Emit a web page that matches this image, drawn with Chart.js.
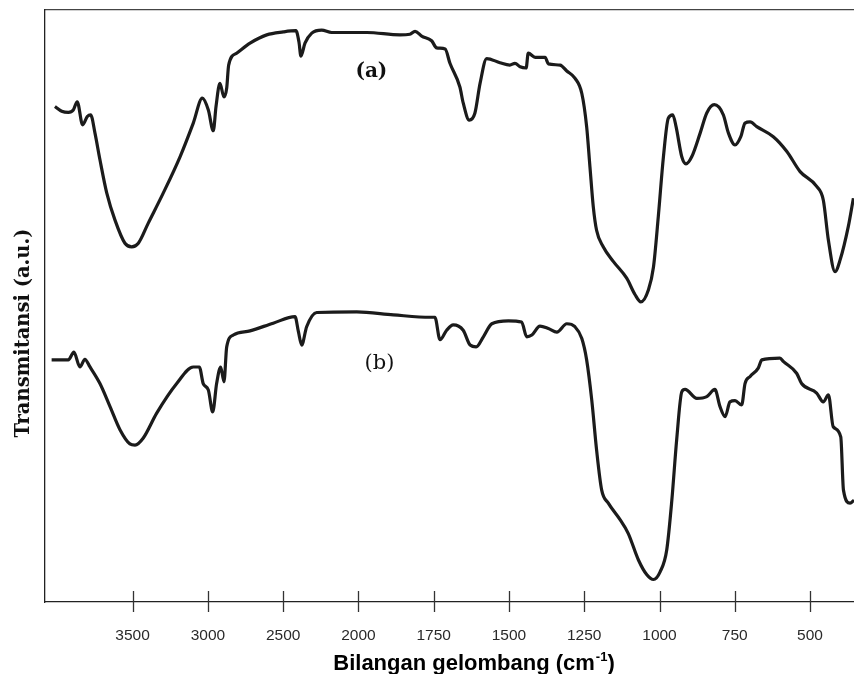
<!DOCTYPE html>
<html>
<head>
<meta charset="utf-8">
<title>FTIR</title>
<script src="https://cdn.jsdelivr.net/npm/chart.js@4.4.1/dist/chart.umd.min.js"></script>
<style>
    html, body { margin: 0; padding: 0; background: #fff; }
    #wrap { width: 854px; height: 674px; }
</style>
</head>
<body>
<div id="wrap"><canvas id="ftirChart" width="854" height="674"></canvas></div>
<script>
// --- DATA ---
// wavenumber in cm-1, transmittance in arbitrary units (0 = bottom, 100 = top)
const waveA = [4016, 3971, 3927, 3894, 3868, 3832, 3801, 3779, 3750, 3717,
    3672, 3617, 3551, 3506, 3462, 3396, 3296, 3185, 3097, 3037,
    2997, 2964, 2946, 2920, 2893, 2875, 2862, 2809, 2720, 2609,
    2499, 2415, 2395, 2382, 2355, 2310, 2244, 2178, 1972, 1862,
    1829, 1812, 1790, 1757, 1740, 1712, 1696, 1663, 1652, 1632,
    1613, 1596, 1574, 1530, 1497, 1480, 1463, 1443, 1436, 1413,
    1380, 1369, 1330, 1308, 1281, 1258, 1242, 1231, 1220, 1209,
    1187, 1153, 1109, 1081, 1062, 1037, 1020, 1004, 987, 971,
    956, 945, 926, 912, 893, 865, 843, 818, 788, 771,
    749, 730, 716, 699, 677, 622, 577, 533, 478, 456,
    439, 417, 400, 373, 356];
const transA = [83.7, 82.9, 82.7, 83.1, 84.5, 80.6, 82.0, 82.3, 79.2, 74.7,
    69.1, 64.5, 60.6, 60.0, 60.6, 64.0, 69.1, 75.2, 80.9, 85.1,
    83.1, 79.6, 83.7, 87.6, 85.3, 86.8, 90.7, 92.7, 94.4, 95.8,
    96.3, 96.5, 94.6, 92.2, 94.4, 96.1, 96.6, 96.2, 96.2, 95.8,
    95.9, 96.4, 95.6, 94.8, 93.6, 93.4, 91.0, 87.0, 84.3, 81.4,
    82.6, 87.6, 91.8, 91.1, 90.7, 91.0, 90.4, 90.2, 92.7, 92.0,
    92.0, 90.9, 90.7, 89.7, 88.5, 85.9, 80.3, 73.5, 66.8, 62.8,
    60.0, 57.5, 54.7, 51.9, 50.7, 52.7, 56.6, 65.1, 75.2, 81.7,
    82.3, 80.3, 75.2, 74.0, 75.2, 79.2, 82.6, 84.0, 82.3, 79.2,
    77.2, 78.6, 80.9, 81.1, 80.3, 78.6, 76.1, 72.7, 70.2, 67.9,
    61.1, 55.8, 57.8, 63.4, 68.2];

const waveB = [4038, 3927, 3890, 3850, 3817, 3783, 3717, 3650, 3584, 3518,
    3484, 3429, 3340, 3207, 3097, 3057, 3031, 2997, 2968, 2942,
    2915, 2893, 2875, 2831, 2720, 2566, 2421, 2399, 2377, 2344,
    2277, 2011, 1884, 1762, 1746, 1729, 1707, 1685, 1652, 1629,
    1609, 1585, 1557, 1502, 1458, 1441, 1424, 1397, 1369, 1341,
    1308, 1281, 1258, 1242, 1225, 1209, 1192, 1170, 1131, 1104,
    1070, 1042, 1020, 998, 976, 959, 943, 926, 915, 876,
    843, 816, 799, 782, 766, 749, 727, 716, 699, 672,
    660, 600, 588, 544, 528, 478, 456, 439, 423, 398,
    389, 367, 354];
const transB = [40.9, 40.9, 42.2, 39.7, 41.0, 39.7, 36.9, 33.0, 29.1, 26.7,
    26.5, 27.7, 31.9, 36.9, 39.7, 39.7, 36.9, 35.8, 32.1, 36.9,
    39.7, 37.2, 43.1, 45.1, 45.8, 47.1, 48.2, 45.7, 43.4, 46.5,
    48.9, 49.0, 48.5, 48.1, 48.1, 44.3, 45.9, 46.8, 45.9, 43.4,
    43.1, 44.8, 47.0, 47.5, 47.3, 44.8, 45.1, 46.6, 46.2, 45.6,
    47.0, 46.5, 44.5, 40.9, 34.1, 25.7, 18.9, 16.7, 13.9, 11.6,
    7.1, 4.6, 3.8, 5.1, 8.8, 17.2, 27.4, 35.5, 35.9, 34.4,
    34.7, 35.9, 33.0, 31.3, 33.8, 34.0, 33.3, 36.9, 38.1, 39.5,
    40.9, 41.2, 40.6, 38.6, 36.9, 35.3, 33.8, 35.0, 29.6, 27.9,
    18.9, 16.7, 17.2];

const tickWaves = [3500, 3000, 2500, 2000, 1750, 1500, 1250, 1000, 750, 500];
const waveRange = [354, 4082];

const curveNames = ['(a)', '(b)'];
const curveNameWaves = [1957, 1930];
const curveNameTrans = [89.5, 40.2];

// --- AXIS BREAK ---
// Above 2000 cm-1 the axis is compressed by half (usual FTIR layout)
function axisPos(wn) {
    return wn > 2000 ? 2000 + (wn - 2000) / 2 : wn;
}
function axisWave(p) {
    return p > 2000 ? Math.round(2000 + (p - 2000) * 2) : Math.round(p);
}

function toPoints(waves, trans) {
    return waves.map((w, i) => ({ x: axisPos(w), y: trans[i] }));
}

// --- EXTRA DRAWING: tick marks crossing the axis, axis titles, curve labels ---
const decorPlugin = {
    id: 'decor',
    afterDraw(chart) {
        const ctx = chart.ctx;
        const area = chart.chartArea;
        const xs = chart.scales.x;
        const ys = chart.scales.y;

        ctx.save();
        // ticks
        ctx.strokeStyle = '#333';
        ctx.lineWidth = 1.3;
        tickWaves.forEach(w => {
            const px = Math.round(xs.getPixelForValue(axisPos(w))) + 0.5;
            ctx.beginPath();
            ctx.moveTo(px, area.bottom - 11);
            ctx.lineTo(px, area.bottom + 10);
            ctx.stroke();
        });

        // y title
        ctx.fillStyle = '#111';
        ctx.translate(24, 333);
        ctx.rotate(-Math.PI / 2);
        ctx.font = 'bold 19.5px "DejaVu Serif"';
        ctx.textAlign = 'center';
        ctx.textBaseline = 'middle';
        ctx.fillText('Transmitansi (a.u.)', 0, 0);
        ctx.restore();

        // x title with superscript
        ctx.save();
        ctx.fillStyle = '#000';
        ctx.textBaseline = 'alphabetic';
        ctx.textAlign = 'left';
        const mainFont = 'bold 22px "Liberation Sans", Arial, sans-serif';
        const supFont = 'bold 13px "Liberation Sans", Arial, sans-serif';
        const part1 = 'Bilangan gelombang (cm';
        const sup = '-1';
        const part2 = ')';
        ctx.font = mainFont;
        const w1 = ctx.measureText(part1).width;
        const w3 = ctx.measureText(part2).width;
        ctx.font = supFont;
        const w2 = ctx.measureText(sup).width;
        const total = w1 + w2 + w3;
        let x0 = (area.left + area.right) / 2 + 24 - total / 2;
        const base = 670;
        ctx.font = mainFont;
        ctx.fillText(part1, x0, base);
        ctx.font = supFont;
        ctx.fillText(sup, x0 + w1 + 1, base - 9);
        ctx.font = mainFont;
        ctx.fillText(part2, x0 + w1 + w2 + 1, base);
        ctx.restore();

        // (a) / (b)
        ctx.save();
        ctx.fillStyle = '#111';
        ctx.textAlign = 'center';
        ctx.textBaseline = 'middle';
        curveNames.forEach((name, i) => {
            ctx.font = i === 0 ? 'bold 20px "DejaVu Serif"' : '21px "DejaVu Serif"';
            ctx.fillText(name,
                xs.getPixelForValue(axisPos(curveNameWaves[i])),
                ys.getPixelForValue(curveNameTrans[i]));
        });
        ctx.restore();
    }
};

// --- CHART ---
const lineStyle = {
    borderColor: '#1b1b1b',
    borderWidth: 3.2,
    pointRadius: 0,
    fill: false,
    cubicInterpolationMode: 'monotone'
};

new Chart(document.getElementById('ftirChart'), {
    type: 'line',
    data: {
        datasets: [
            { label: curveNames[0], data: toPoints(waveA, transA), ...lineStyle },
            { label: curveNames[1], data: toPoints(waveB, transB), ...lineStyle }
        ]
    },
    options: {
        responsive: false,
        animation: false,
        devicePixelRatio: 1,
        layout: { padding: { top: 10, left: 0, right: 0, bottom: 0 } },
        plugins: {
            legend: { display: false },
            tooltip: { enabled: false }
        },
        scales: {
            x: {
                type: 'linear',
                reverse: true,
                min: axisPos(waveRange[0]),
                max: axisPos(waveRange[1]),
                afterBuildTicks: s => { s.ticks = tickWaves.map(w => ({ value: axisPos(w) })); },
                afterFit: s => { s.height = 72; },
                grid: { display: false, drawTicks: false },
                border: { display: true, color: '#222', width: 1.3 },
                ticks: {
                    autoSkip: false,
                    maxRotation: 0,
                    padding: 24,
                    color: '#2a2a2a',
                    font: { family: '"Liberation Sans", Arial, sans-serif', size: 15.5 },
                    callback: v => axisWave(v)
                }
            },
            x2: {
                type: 'linear',
                position: 'top',
                reverse: true,
                min: axisPos(waveRange[0]),
                max: axisPos(waveRange[1]),
                afterFit: s => { s.height = 0; },
                grid: { display: false, drawTicks: false },
                border: { display: true, color: '#444', width: 1.3 },
                ticks: { display: false }
            },
            y: {
                min: 0,
                max: 100,
                afterFit: s => { s.width = 45; },
                grid: { display: false, drawTicks: false },
                border: { display: true, color: '#222', width: 1.3 },
                ticks: { display: false }
            }
        }
    },
    plugins: [decorPlugin]
});
</script>
</body>
</html>
